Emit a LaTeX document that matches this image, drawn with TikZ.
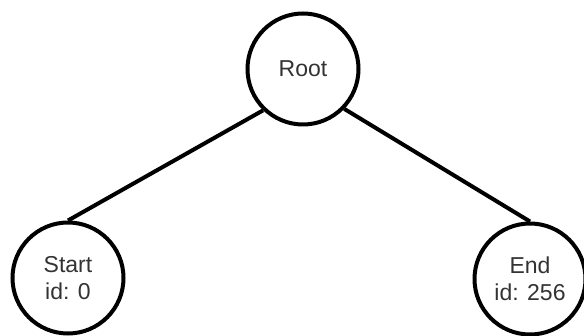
\documentclass[tikz,border=0pt]{standalone}
\usepackage{fontspec}
\setmainfont{Liberation Sans}
\begin{document}
\begin{tikzpicture}[x=1pt,y=-1pt,
  treenode/.style={circle,draw=black,line width=4pt,fill=white,minimum size=111pt,inner sep=0pt,align=center,font=\fontsize{23}{27}\selectfont,text=black!80},
  edge/.style={line width=4pt,draw=black}]
\useasboundingbox (0,0) rectangle (584,336);
\node[treenode] (root) at (303,69) {Root};
\node[treenode] (start) at (68,278) {Start\\id: 0};
\node[treenode] (end) at (530,279) {End\\id: 256};
\draw[edge] (root.226) -- (start.north);
\draw[edge] (root.-44) -- (end.north);
\end{tikzpicture}
\end{document}
